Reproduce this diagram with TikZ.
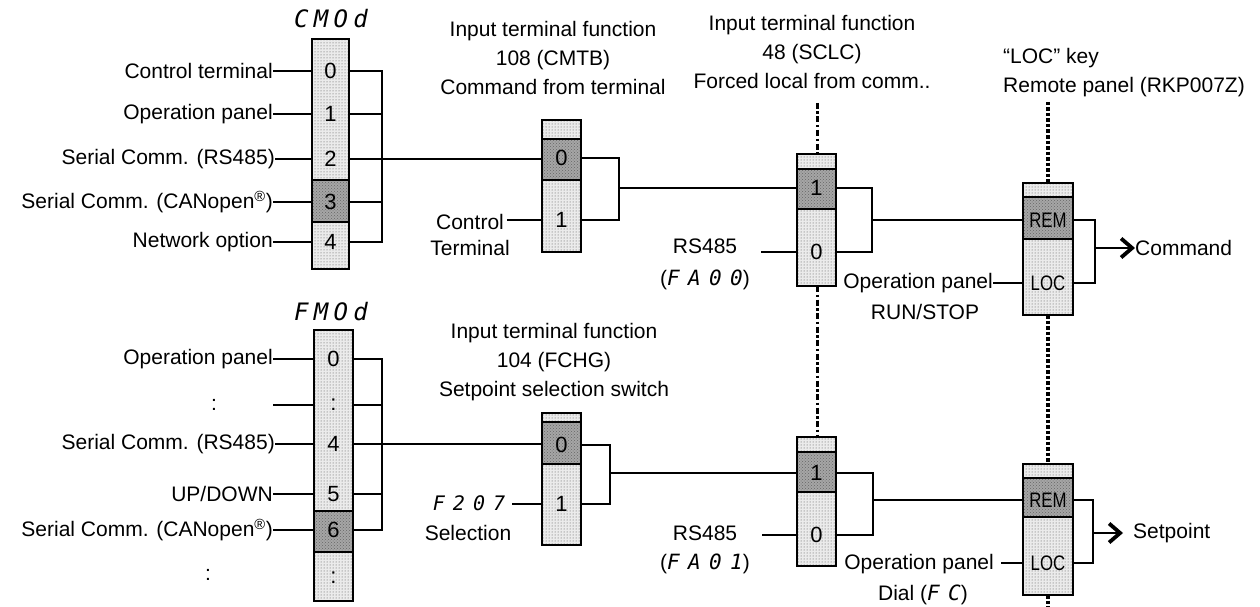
\documentclass[tikz,border=0pt]{standalone}
\usepackage{fontspec}
\setmainfont{Liberation Sans}
\newfontfamily\segfont{DejaVu Sans Mono}[LetterSpace=40]
\newfontfamily\segtitle{DejaVu Sans Mono}[LetterSpace=22]
\usetikzlibrary{patterns,arrows.meta}
\begin{document}
\begin{tikzpicture}[x=1pt,y=-1pt,
  lbl/.style={font=\fontsize{21}{29}\selectfont, inner sep=0pt},
  num/.style={font=\fontsize{22}{24}\selectfont, inner sep=0pt},
  keytxt/.style={font=\fontsize{21}{24}\selectfont, inner sep=0pt, xscale=0.8, transform shape},
  seg/.style={font=\segfont\itshape\fontsize{20}{24}\selectfont, inner sep=0pt},
  segt/.style={font=\segtitle\itshape\fontsize{24}{26}\selectfont, inner sep=0pt},
  wire/.style={line width=1.6pt},
  outline/.style={draw, line width=1.8pt},
  sepline/.style={line width=1.8pt},
  lightseg/.style={fill=black!8, postaction={pattern=dots, pattern color=black!70}},
  darkseg/.style={fill=black!35, postaction={pattern=crosshatch dots, pattern color=black!60}},
  dashdotline/.style={line width=3pt, dash pattern=on 6pt off 2.5pt on 2.5pt off 2.5pt},
  dotline/.style={line width=3.5pt, dash pattern=on 3.5pt off 2pt},
  outarrow/.style={line width=2.5pt, -{Straight Barb[length=11pt,width=19pt,line width=3.8pt]}}
]
\useasboundingbox (0,0) rectangle (1260,607);

% ================= CMOd selector =================
\path[lightseg] (312,39) rectangle (349,180);
\path[darkseg] (312,180) rectangle (349,222);
\path[lightseg] (312,222) rectangle (349,269);
\draw[outline] (312,39) rectangle (349,269);
\draw[sepline] (312,180) -- (349,180) (312,222) -- (349,222);
\node[segt] (cmodt) at (331,19) {CMOd};
\foreach \n/\y in {0/71,1/114,2/159,3/202,4/242}{
  \node[num] (c\n) at (330.5,\y) {\n};
  \coordinate (c\n L) at (312,\y);
  \coordinate (c\n R) at (349,\y);
}
\node[lbl,anchor=east] (lc0) at (273,71) {Control terminal};
\node[lbl,anchor=east] (lc1) at (273,114) {Operation panel};
\node[lbl,anchor=east] (lc2) at (275,159) {Serial Comm. (RS485)};
\node[lbl,anchor=east] (lc3) at (273,202) {Serial Comm. (CANopen\textsuperscript{®})};
\node[lbl,anchor=east] (lc4) at (273,242) {Network option};
\foreach \n in {0,...,4}{\draw[wire] (lc\n.east) -- (c\n L);}
\coordinate (cb0) at (382,71);
\coordinate (cb4) at (382,242);
\draw[wire] (c0R) -- (cb0) -- (cb4) -- (c4R);
\draw[wire] (c1R) -- (c1R -| cb0);
\draw[wire] (c3R) -- (c3R -| cb0);

% ================= CMTB switch =================
\path[lightseg] (542,120) rectangle (581,139);
\path[darkseg] (542,139) rectangle (581,180);
\path[lightseg] (542,180) rectangle (581,252);
\draw[outline] (542,120) rectangle (581,252);
\draw[sepline] (542,139) -- (581,139) (542,180) -- (581,180);
\node[num] (t0) at (561.5,158) {0};
\node[num] (t1) at (561.5,220) {1};
\coordinate (t0L) at (542,159); \coordinate (t0R) at (581,158);
\coordinate (t1L) at (542,220); \coordinate (t1R) at (581,220);
\node[lbl,align=center] (ttl1) at (553,58) {Input terminal function\\108 (CMTB)\\Command from terminal};
\node[lbl,align=center] (ctl) at (470,235) {Control\\[-3pt]Terminal};
\coordinate (ctlw) at (507,220);
\draw[wire] (ctlw) -- (t1L);
\draw[wire] (c2R) -- (t0L);
\coordinate (tb0) at (619,158); \coordinate (tb1) at (619,220);
\coordinate (tout) at (619,188);
\draw[wire] (t0R) -- (tb0) -- (tb1) -- (t1R);

% ================= SCLC switch (upper) =================
\path[lightseg] (797,154) rectangle (836,169);
\path[darkseg] (797,169) rectangle (836,209);
\path[lightseg] (797,209) rectangle (836,286);
\draw[outline] (797,154) rectangle (836,286);
\draw[sepline] (797,169) -- (836,169) (797,209) -- (836,209);
\node[num] (s1) at (816.5,188) {1};
\node[num] (s0) at (816.5,252) {0};
\coordinate (s1L) at (797,188); \coordinate (s1R) at (836,188);
\coordinate (s0L) at (797,252); \coordinate (s0R) at (836,252);
\coordinate (sTop) at (817,154); \coordinate (sBot) at (817,286);
\node[lbl,align=center] (ttl2) at (812,52) {Input terminal function\\48 (SCLC)\\Forced local from comm..};
\node[lbl,align=center] (rs1) at (705,264) {RS485\\[3pt]({\segfont\itshape FA00})};
\coordinate (rs1w) at (761,252);
\draw[wire] (rs1w) -- (s0L);
\draw[wire] (tout) -- (s1L);
\coordinate (sb1) at (872,188); \coordinate (sb0) at (872,252);
\coordinate (sout) at (872,220);
\draw[wire] (s1R) -- (sb1) -- (sb0) -- (s0R);
\coordinate (sDash) at (817,103);
\draw[dashdotline] (sDash) -- (sTop);

% ================= REM/LOC (upper) =================
\path[lightseg] (1023,183) rectangle (1073,197);
\path[darkseg] (1023,197) rectangle (1073,239);
\path[lightseg] (1023,239) rectangle (1073,315);
\draw[outline] (1023,183) rectangle (1073,315);
\draw[sepline] (1023,197) -- (1073,197) (1023,239) -- (1073,239);
\node[keytxt] (rem1) at (1048,220) {REM};
\node[keytxt] (loc1) at (1048,283) {LOC};
\coordinate (r1L) at (1023,220); \coordinate (r1R) at (1073,220);
\coordinate (l1L) at (1023,283); \coordinate (l1R) at (1073,283);
\coordinate (rTop) at (1048,183); \coordinate (rBot) at (1048,315);
\draw[wire] (sout) -- (r1L);
\node[lbl,anchor=east] (op1) at (993,283) {Operation panel};
\node[lbl] (rs) at (925,312) {RUN/STOP};
\draw[wire] (op1.east) -- (l1L);
\coordinate (rb0) at (1095,220); \coordinate (rb1) at (1095,283);
\coordinate (rout) at (1095,248);
\draw[wire] (r1R) -- (rb0) -- (rb1) -- (l1R);
\node[lbl,anchor=west] (cmd) at (1135,248) {Command};
\draw[outarrow] (rout) -- (cmd.west);
\node[lbl,align=left,anchor=west] (lockey) at (1003,73) {“LOC” key\\Remote panel (RKP007Z)};
\coordinate (rDot) at (1048,102);
\draw[dotline] (rDot) -- (rTop);

% ================= FMOd selector =================
\path[lightseg] (314,330) rectangle (353,511);
\path[darkseg] (314,511) rectangle (353,552);
\path[lightseg] (314,552) rectangle (353,601);
\draw[outline] (314,330) rectangle (353,601);
\draw[sepline] (314,511) -- (353,511) (314,552) -- (353,552);
\node[segt] (fmodt) at (331,312) {FMOd};
\foreach \n/\t/\y in {0/0/359,a/:/405,4/4/444,5/5/494,6/6/530,b/:/578}{
  \node[num] (f\n) at (333.5,\y) {\t};
  \coordinate (f\n L) at (314,\y);
  \coordinate (f\n R) at (353,\y);
}
\node[lbl,anchor=east] (lf0) at (273,359) {Operation panel};
\node[lbl] (lfa) at (214,405) {:};
\coordinate (lfaw) at (273,405);
\node[lbl,anchor=east] (lf4) at (275,444) {Serial Comm. (RS485)};
\node[lbl,anchor=east] (lf5) at (273,494) {UP/DOWN};
\node[lbl,anchor=east] (lf6) at (273,530) {Serial Comm. (CANopen\textsuperscript{®})};
\node[lbl] (lfb) at (208,575) {:};
\draw[wire] (lf0.east) -- (f0L);
\draw[wire] (lfaw) -- (faL);
\draw[wire] (lf4.east) -- (f4L);
\draw[wire] (lf5.east) -- (f5L);
\draw[wire] (lf6.east) -- (f6L);
\coordinate (fb0) at (382,359); \coordinate (fb6) at (382,530);
\draw[wire] (f0R) -- (fb0) -- (fb6) -- (f6R);
\draw[wire] (faR) -- (faR -| fb0);
\draw[wire] (f5R) -- (f5R -| fb0);

% ================= FCHG switch =================
\path[lightseg] (542,413) rectangle (581,422);
\path[darkseg] (542,422) rectangle (581,464);
\path[lightseg] (542,464) rectangle (581,545);
\draw[outline] (542,413) rectangle (581,545);
\draw[sepline] (542,422) -- (581,422) (542,464) -- (581,464);
\node[num] (g0) at (561.5,445) {0};
\node[num] (g1) at (561.5,504) {1};
\coordinate (g0L) at (542,444); \coordinate (g0R) at (581,445);
\coordinate (g1L) at (542,504); \coordinate (g1R) at (581,504);
\node[lbl,align=center] (ttl3) at (554,362) {Input terminal function\\104 (FCHG)\\Setpoint selection switch};
\node[seg] (f207) at (469,503) {F207};
\node[lbl] (sel) at (468,533) {Selection};
\coordinate (f207w) at (512,504);
\draw[wire] (f207w) -- (g1L);
\draw[wire] (f4R) -- (g0L);
\coordinate (gb0) at (610,445); \coordinate (gb1) at (610,504);
\coordinate (gout) at (610,473);
\draw[wire] (g0R) -- (gb0) -- (gb1) -- (g1R);

% ================= SCLC switch (lower) =================
\path[lightseg] (797,437) rectangle (836,452);
\path[darkseg] (797,452) rectangle (836,492);
\path[lightseg] (797,492) rectangle (836,566);
\draw[outline] (797,437) rectangle (836,566);
\draw[sepline] (797,452) -- (836,452) (797,492) -- (836,492);
\node[num] (u1) at (816.5,473) {1};
\node[num] (u0) at (816.5,535) {0};
\coordinate (u1L) at (797,473); \coordinate (u1R) at (836,473);
\coordinate (u0L) at (797,535); \coordinate (u0R) at (836,535);
\coordinate (uTop) at (817,437);
\draw[dashdotline] (sBot) -- (uTop);
\node[lbl,align=center] (rs2) at (705,550) {RS485\\[0pt]({\segfont\itshape FA01})};
\coordinate (rs2w) at (762,535);
\draw[wire] (rs2w) -- (u0L);
\draw[wire] (gout) -- (u1L);
\coordinate (ub1) at (873,473); \coordinate (ub0) at (873,535);
\coordinate (uout) at (873,500);
\draw[wire] (u1R) -- (ub1) -- (ub0) -- (u0R);

% ================= REM/LOC (lower) =================
\path[lightseg] (1023,464) rectangle (1073,478);
\path[darkseg] (1023,478) rectangle (1073,517);
\path[lightseg] (1023,517) rectangle (1073,595);
\draw[outline] (1023,464) rectangle (1073,595);
\draw[sepline] (1023,478) -- (1073,478) (1023,517) -- (1073,517);
\node[keytxt] (rem2) at (1048,500) {REM};
\node[keytxt] (loc2) at (1048,563) {LOC};
\coordinate (r2L) at (1023,500); \coordinate (r2R) at (1073,500);
\coordinate (l2L) at (1023,563); \coordinate (l2R) at (1073,563);
\coordinate (qTop) at (1048,464); \coordinate (qBot) at (1048,595);
\draw[dotline] (rBot) -- (qTop);
\coordinate (qEnd) at (1048,607);
\draw[dotline] (qBot) -- (qEnd);
\draw[wire] (uout) -- (r2L);
\node[lbl,anchor=east] (op2) at (994,564) {Operation panel};
\node[lbl] (dial) at (923,595) {Dial ({\segfont\itshape FC})};
\coordinate (op2w) at (1001,563);
\draw[wire] (op2w) -- (l2L);
\coordinate (qb0) at (1093,500); \coordinate (qb1) at (1093,563);
\coordinate (qout) at (1093,533);
\draw[wire] (r2R) -- (qb0) -- (qb1) -- (l2R);
\node[lbl,anchor=west] (setp) at (1133,533) {Setpoint};
\coordinate (setpa) at (1123,533);
\draw[outarrow] (qout) -- (setpa);
\end{tikzpicture}
\end{document}
